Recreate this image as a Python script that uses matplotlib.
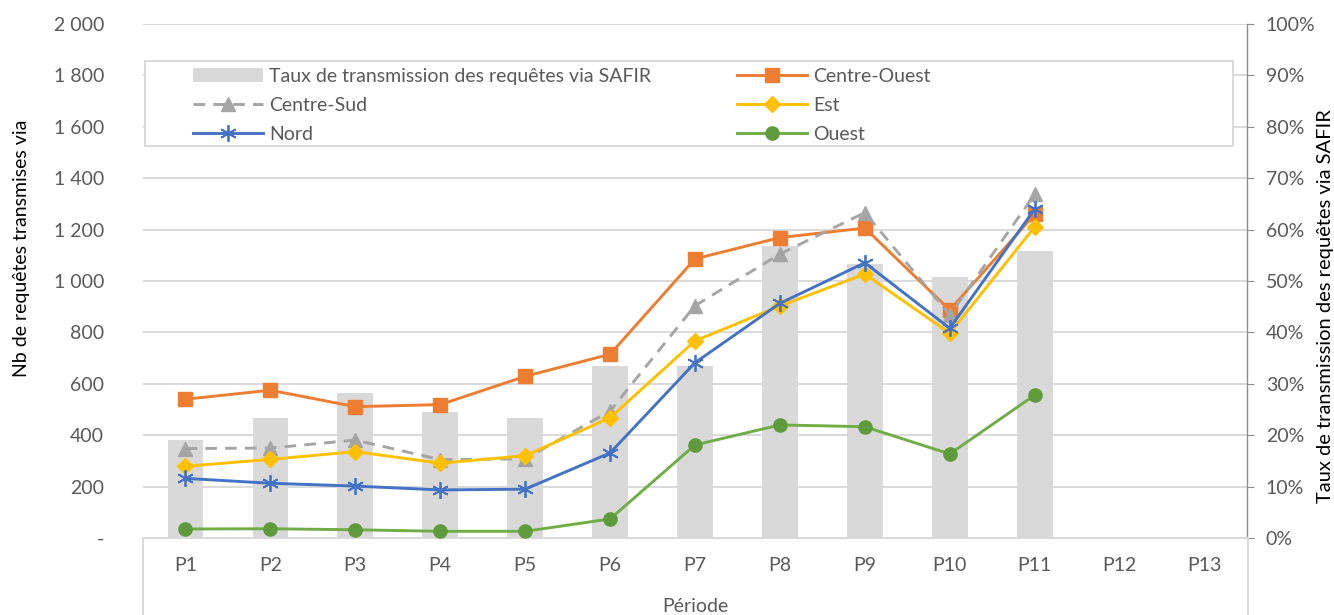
import matplotlib
matplotlib.use('Agg')
import matplotlib.pyplot as plt
from matplotlib.ticker import FuncFormatter, MultipleLocator
from matplotlib.patches import Rectangle
from matplotlib.lines import Line2D

periods = ['P1', 'P2', 'P3', 'P4', 'P5', 'P6', 'P7', 'P8', 'P9', 'P10', 'P11', 'P12', 'P13']
taux = [19.0, 23.3, 28.3, 24.5, 23.3, 33.5, 33.5, 56.8, 53.3, 50.8, 55.8]
centre_ouest = [540, 575, 511, 519, 629, 715, 1086, 1169, 1206, 887, 1260]
centre_sud = [348, 350, 381, 305, 308, 494, 904, 1105, 1266, 868, 1337]
est = [279, 306, 336, 291, 320, 468, 767, 903, 1027, 797, 1211]
nord = [232, 213, 202, 187, 190, 331, 682, 913, 1071, 816, 1280]
ouest = [35, 36, 32, 26, 26, 74, 362, 440, 433, 327, 556]

W, H = 1334, 615
plt.rcParams['font.family'] = ['Lato', 'DejaVu Sans']
TXT = '#595959'
GRID = '#d9d9d9'
FS = 14

fig = plt.figure(figsize=(W / 100, H / 100), dpi=100)
L, R, T, B = 143, 1247, 24, 538
ax = fig.add_axes([L / W, 1 - B / H, (R - L) / W, (B - T) / H])

x_all = list(range(len(periods)))
x_data = x_all[:len(taux)]

bars = ax.bar(x_data, taux, width=0.42, color='#d9d9d9', zorder=2,
              label='Taux de transmission des requêtes via SAFIR')
ax.set_ylim(0, 100)
ax.set_xlim(-0.5, len(periods) - 0.5)
ax.yaxis.set_major_locator(MultipleLocator(10))
ax.yaxis.set_major_formatter(FuncFormatter(lambda v, p: f'{v:.0f}%'))
ax.set_axisbelow(True)
ax.grid(axis='y', color=GRID, lw=1.4)
ax.set_xticks(x_all)
ax.set_xticklabels(periods)
for s in ['top', 'left']:
    ax.spines[s].set_visible(False)
ax.spines['right'].set_color('#8c8c8c')
ax.spines['right'].set_linewidth(1.0)
ax.spines['bottom'].set_color(GRID)
ax.spines['bottom'].set_linewidth(1.4)
ax.tick_params(axis='x', length=0, pad=14, labelsize=FS, labelcolor=TXT)

ax2 = ax.twinx()
# twinx moves the original's ticks to the left: restore right-side ticks
ax.yaxis.tick_right()
ax.yaxis.set_label_position('right')
ax.tick_params(axis='y', which='both', right=True, left=False, labelright=True,
               labelleft=False, length=5, color='#8c8c8c', pad=8.5,
               labelsize=FS, labelcolor=TXT)

ax2.set_ylim(0, 2000)
ax2.yaxis.tick_left()
ax2.yaxis.set_major_locator(MultipleLocator(200))
ax2.yaxis.set_major_formatter(FuncFormatter(
    lambda v, p: '-' if v == 0 else f'{v:,.0f}'.replace(',', ' ')))
ax2.tick_params(axis='y', length=0, pad=28, labelsize=FS, labelcolor=TXT,
                labelleft=True, labelright=False)
for s in ax2.spines.values():
    s.set_visible(False)

lw = 2.1
h_co, = ax2.plot(x_data, centre_ouest, color='#ED7D31', lw=lw, marker='s', ms=10,
                 label='Centre-Ouest', zorder=3)
h_cs, = ax2.plot(x_data, centre_sud, color='#A5A5A5', lw=lw, ls=(0, (4, 2.8)),
                 marker='^', ms=10, label='Centre-Sud', zorder=3)
h_est, = ax2.plot(x_data, est, color='#FFC000', lw=lw, marker='D', ms=8,
                  label='Est', zorder=3)
h_nord, = ax2.plot(x_data, nord, color='#4472C4', lw=lw, marker=(6, 2, 0), ms=12,
                   mew=1.3, label='Nord', zorder=3)
h_ou, = ax2.plot(x_data, ouest, color='#70AD47', lw=lw, marker='o', ms=9.5,
                 mfc='#5f9b3c', mec='#5f9b3c', label='Ouest', zorder=3)

# axis titles
fig.text(22 / W, 1 - 248 / H, 'Nb de requêtes transmises via', rotation=90,
         ha='center', va='center', fontsize=FS, color='black')
fig.text(1325 / W, 1 - 306 / H, 'Taux de transmission des requêtes via SAFIR',
         rotation=90, ha='center', va='center', fontsize=FS + 0.5, color='black')
fig.text(695 / W, 1 - 607 / H, 'Période', ha='center', va='center',
         fontsize=FS, color=TXT)

# frame lines below the x axis
fig.add_artist(Line2D([L / W, L / W], [0, 1 - B / H], color=GRID, lw=1.4,
                      transform=fig.transFigure))
fig.add_artist(Line2D([1248 / W, 1248 / W], [0, 1 - B / H], color=GRID, lw=1.4,
                      transform=fig.transFigure))

# legend box
rect = Rectangle((145 / W, 1 - 146 / H), (1233 - 145) / W, (146 - 61) / H,
                 transform=fig.transFigure, facecolor='white', edgecolor=GRID,
                 lw=1.4, zorder=5)
fig.add_artist(rect)

leg_kw = dict(loc='upper left', frameon=False, borderpad=0, borderaxespad=0,
              fontsize=FS, handlelength=3.6, handletextpad=0.3,
              labelspacing=0.62, labelcolor=TXT)
leg1 = fig.legend([bars, h_cs, h_nord],
                  ['Taux de transmission des requêtes via SAFIR', 'Centre-Sud', 'Nord'],
                  bbox_to_anchor=(193 / W, 1 - 68 / H), **leg_kw)
leg1.set_zorder(6)
leg2 = fig.legend([h_co, h_est, h_ou], ['Centre-Ouest', 'Est', 'Ouest'],
                  bbox_to_anchor=(737 / W, 1 - 68 / H), **leg_kw)
leg2.set_zorder(6)

fig.savefig('out.png', dpi=100)
